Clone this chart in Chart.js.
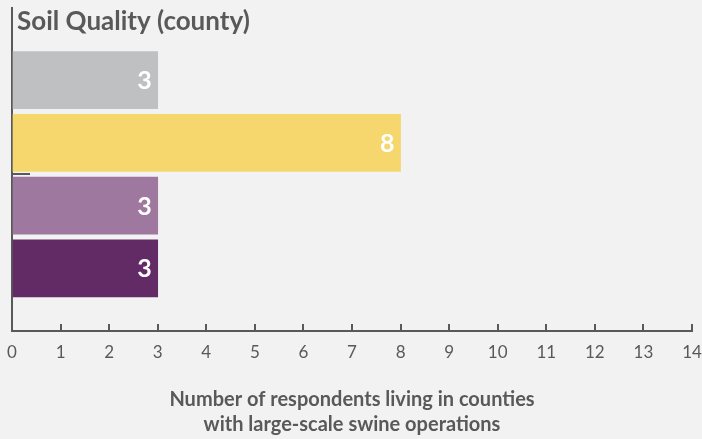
<!DOCTYPE html>
<html>
<head>
<meta charset="utf-8">
<script src="https://cdn.jsdelivr.net/npm/chart.js@4.4.1/dist/chart.umd.min.js"></script>
<style>
  html, body { margin: 0; padding: 0; background: #f2f2f2; }
  #wrap { width: 702px; height: 439px; position: relative; }
</style>
</head>
<body>
<div id="wrap"><canvas id="c" width="702" height="439"></canvas></div>
<script>
const chartTitle = 'Soil Quality (county)';
const categories = ['Category 1', 'Category 2', 'Category 3', 'Category 4'];
const values = [3, 8, 3, 3];
const barColors = ['#bfc0c2', '#f5d76e', '#9e789e', '#632b66'];
const xTicks = [0, 1, 2, 3, 4, 5, 6, 7, 8, 9, 10, 11, 12, 13, 14];
const xTitle = ['Number of respondents living in counties', 'with large-scale swine operations'];

const axisColor = '#595959';
const fontFamily = 'Lato, "Open Sans", sans-serif';

const titlePlugin = {
  id: 'cornerTitle',
  afterDraw(chart) {
    const ctx = chart.ctx;
    ctx.save();
    ctx.font = 'bold 26px ' + fontFamily;
    ctx.fillStyle = axisColor;
    ctx.textAlign = 'left';
    ctx.textBaseline = 'alphabetic';
    ctx.fillText(chartTitle, 17, 30);
    ctx.restore();
  }
};

const valueLabels = {
  id: 'valueLabels',
  afterDatasetsDraw(chart) {
    const ctx = chart.ctx;
    const meta = chart.getDatasetMeta(0);
    ctx.save();
    ctx.font = 'bold 25px ' + fontFamily;
    ctx.fillStyle = '#ffffff';
    ctx.textAlign = 'right';
    ctx.textBaseline = 'middle';
    meta.data.forEach((el, i) => {
      ctx.fillText(String(values[i]), el.x - 6, el.y + 1);
    });
    ctx.restore();
  }
};

new Chart(document.getElementById('c'), {
  type: 'bar',
  data: {
    datasets: [{
      label: chartTitle,
      data: values.map((v, i) => ({ x: v, y: i, name: categories[i] })),
      backgroundColor: barColors,
      borderWidth: 0,
      barThickness: 57
    }]
  },
  options: {
    indexAxis: 'y',
    responsive: false,
    animation: false,
    layout: { padding: { left: 12, right: 10, top: 8, bottom: 0 } },
    plugins: { legend: { display: false }, tooltip: { enabled: false }, title: { display: false } },
    scales: {
      x: {
        type: 'linear',
        min: xTicks[0],
        max: xTicks[xTicks.length - 1],
        offset: false,
        afterBuildTicks: (s) => { s.ticks = xTicks.map(v => ({ value: v })); },
        afterFit: (s) => { s.paddingLeft = 0; s.paddingRight = 0; },
        ticks: {
          color: axisColor,
          font: { family: fontFamily, size: 17 },
          padding: 18,
          maxRotation: 0,
          autoSkip: false
        },
        grid: { display: true, offset: false, drawOnChartArea: false, drawTicks: true, tickLength: -7, color: axisColor, lineWidth: 2 },
        border: { display: true, color: axisColor, width: 2 },
        title: {
          display: true,
          text: xTitle,
          color: axisColor,
          font: { family: fontFamily, size: 20, weight: 'bold', lineHeight: '25px' },
          padding: { top: 7, bottom: 1.5 }
        }
      },
      y: {
        type: 'linear',
        reverse: true,
        offset: false,
        min: -1.15,
        max: 4.0,
        afterBuildTicks: (s) => { s.ticks = [{ value: 1.5 }]; },
        afterFit: (s) => { s.width = 0; s.paddingTop = 0; s.paddingBottom = 0; },
        ticks: { display: false },
        grid: { display: true, offset: false, drawOnChartArea: false, drawTicks: true, tickLength: -18, color: axisColor, lineWidth: 2 },
        border: { display: true, color: axisColor, width: 2 }
      }
    }
  },
  plugins: [titlePlugin, valueLabels]
});
</script>
</body>
</html>
